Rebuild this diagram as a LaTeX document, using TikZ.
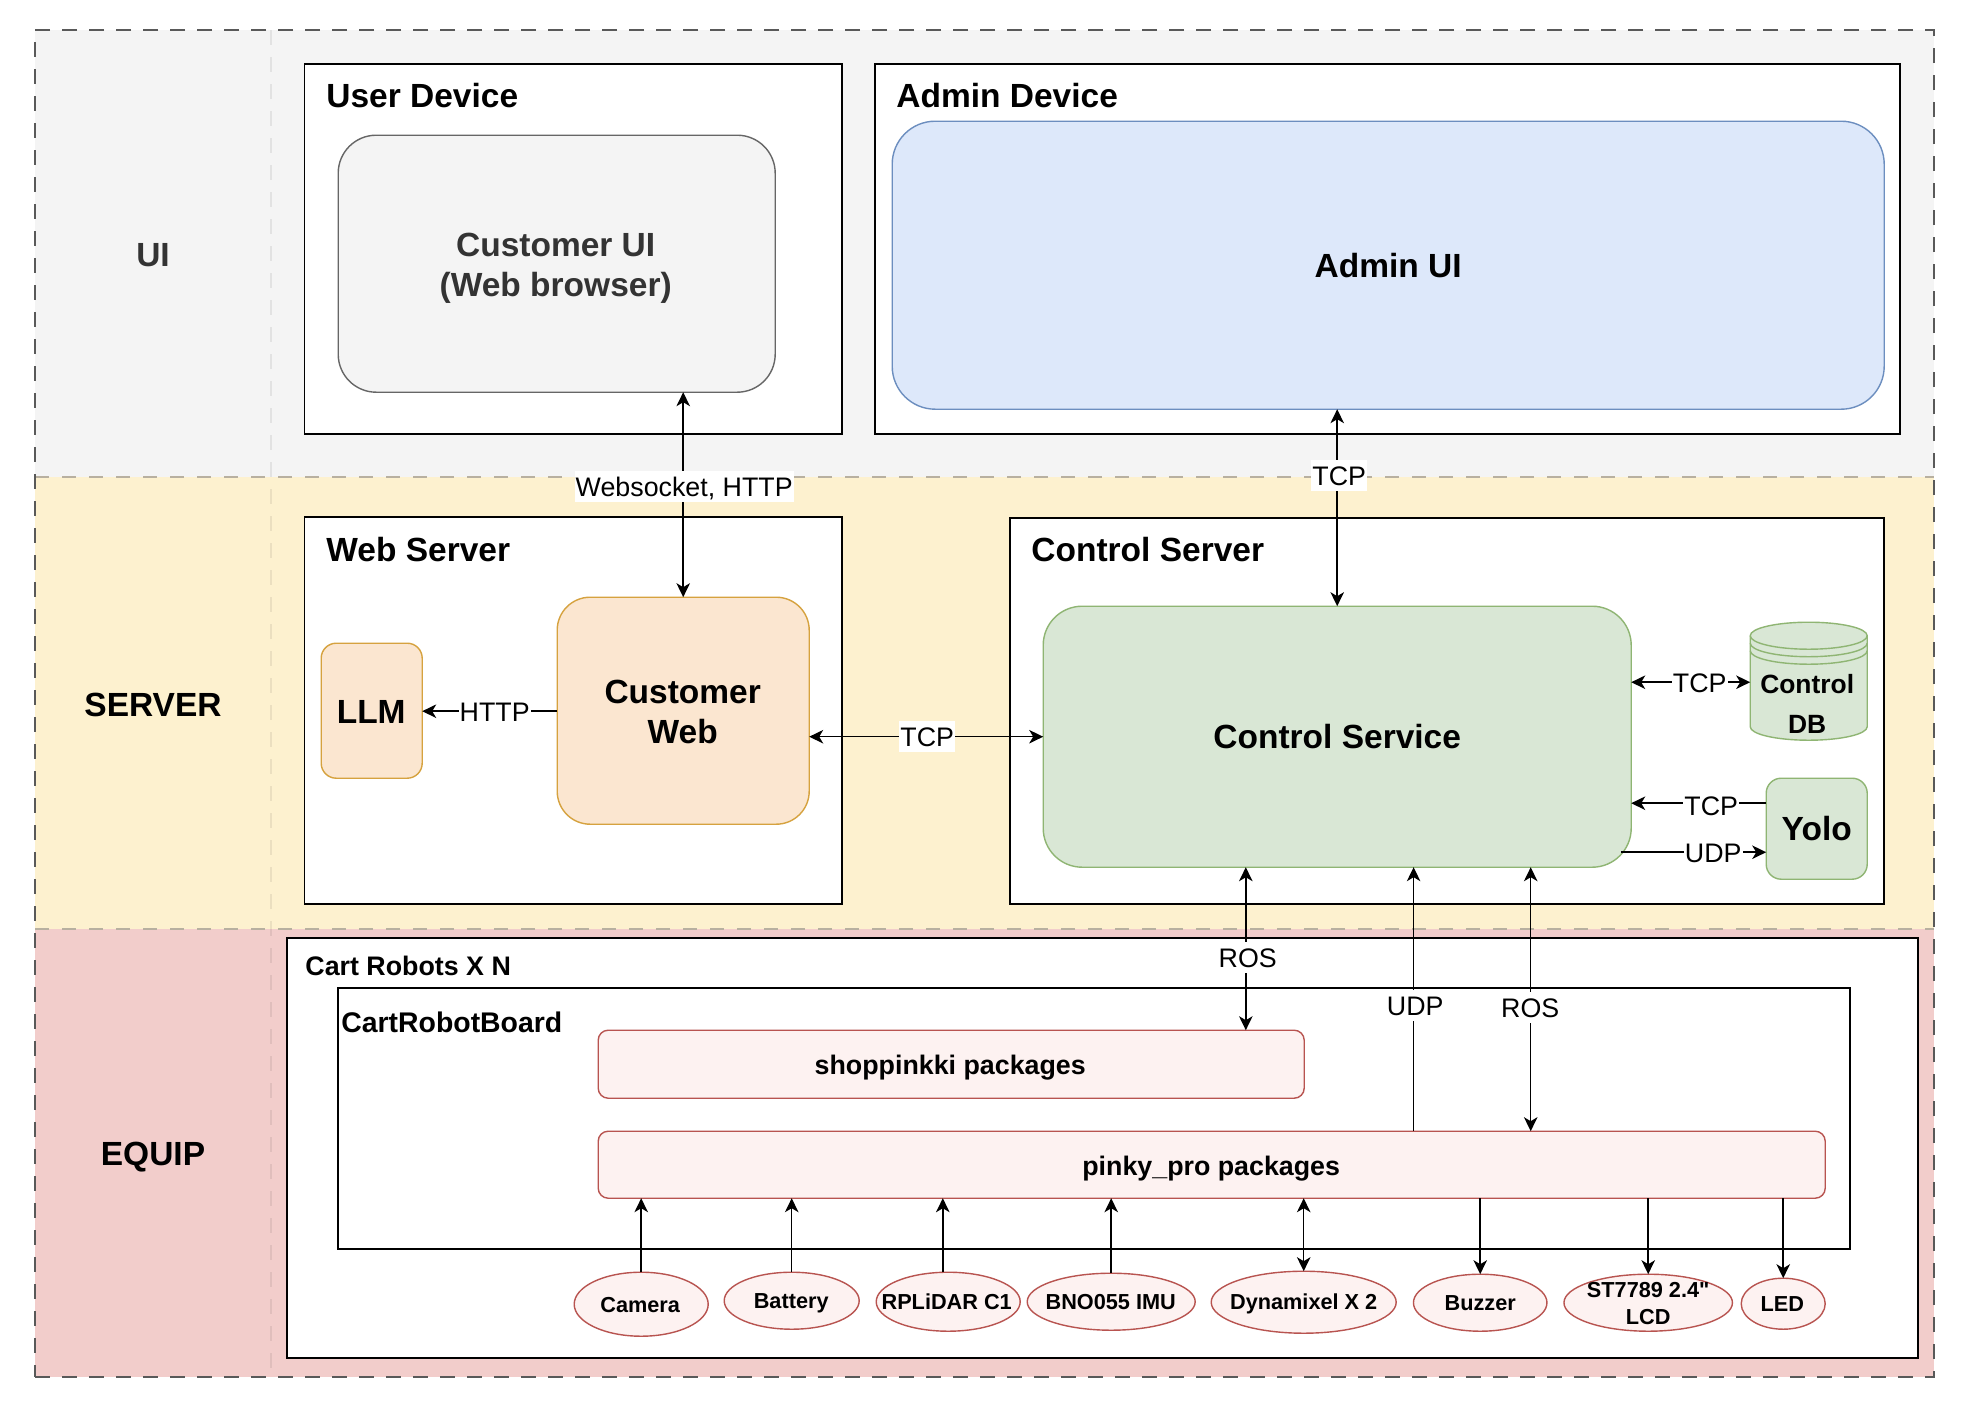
\documentclass[tikz,border=0pt]{standalone}
\usepackage{fontspec}
\setmainfont{Liberation Sans}[Ligatures=TeXOff]
\usetikzlibrary{arrows.meta,shapes.geometric}
\tikzset{
  box/.style={anchor=north west,inner sep=0pt,outer sep=0pt,align=center},
  band/.style={box,draw=none},
  frame/.style={box,draw=black,fill=white,line width=1.6pt},
  bigt/.style={font=\bfseries\fontsize{33.5}{40}\selectfont,align=center},
  lbl/.style={font=\fontsize{26.8}{31}\selectfont,fill=white,inner xsep=1pt,inner ysep=2pt,text height=24pt,text depth=3pt},
  title/.style={anchor=mid west,inner sep=0pt,font=\bfseries\fontsize{33.5}{40}\selectfont},
  gnode/.style={box,bigt,line width=1.4pt,draw=greenS,fill=greenF},
  onode/.style={box,bigt,line width=1.4pt,draw=orangeS,fill=orangeF},
  rnode/.style={box,line width=1.4pt,draw=redS,fill=redF,rounded corners=10pt},
  rtxt/.style={inner sep=0pt,font=\bfseries\fontsize{26.8}{31}\selectfont},
  elp/.style={ellipse,inner sep=0pt,outer sep=0pt,line width=1.4pt,draw=redS,fill=redF},
  etxt/.style={inner sep=0pt,align=center,font=\bfseries\fontsize{21.7}{27}\selectfont},
  conn/.style={draw=black,line width=1.5pt},
  >={Stealth[length=14pt,width=13.5pt,inset=4pt]},
}
\definecolor{uiF}{HTML}{F4F4F4}
\definecolor{srvF}{HTML}{FDF1CF}
\definecolor{eqF}{HTML}{F2CDCB}
\definecolor{greenF}{HTML}{D9E7D5}
\definecolor{greenS}{HTML}{8FB573}
\definecolor{orangeF}{HTML}{FBE6D0}
\definecolor{orangeS}{HTML}{D6A23F}
\definecolor{redF}{HTML}{FDF2F1}
\definecolor{redS}{HTML}{B85450}
\definecolor{blueF}{HTML}{DDE8FA}
\definecolor{blueS}{HTML}{6C8EBF}
\definecolor{sepC}{HTML}{B8B0A0}
\begin{document}
\begin{tikzpicture}[x=1pt,y=-1pt]
\useasboundingbox (0,0) rectangle (1964,1406);
% bands
\node[band,fill=uiF,minimum width=1899pt,minimum height=447pt] (uiband) at (35,30) {};
\node[band,fill=srvF,minimum width=1899pt,minimum height=452pt] (srvband) at (35,477) {};
\node[band,fill=eqF,minimum width=1899pt,minimum height=448pt] (eqband) at (35,929) {};
\coordinate (divtop) at (271,30);
\coordinate (divbot) at (271,1377);
\draw[black,opacity=0.07,line width=1.2pt,dash pattern=on 15pt off 12pt] (divtop) -- (divbot);
\draw[sepC,line width=1.3pt,dash pattern=on 14pt off 13pt] (uiband.south west) -- (uiband.south east);
\draw[sepC,line width=1.3pt,dash pattern=on 14pt off 13pt] (srvband.south west) -- (srvband.south east);
\node[box,draw=black!65,line width=1.2pt,dash pattern=on 15pt off 12pt,minimum width=1899pt,minimum height=1347pt] (outer) at (35,30) {};
\node[bigt,text=black!80] (lui) at (153,255) {UI};
\node[bigt] (lsrv) at (153,705) {SERVER};
\node[bigt] (leq) at (153,1157) {EQUIP};
\begin{scope}[shift={(0.2,0.2)}]
% frames
\node[frame,minimum width=537.5pt,minimum height=370pt] (userdev) at (304.3,64) {};
\node[frame,minimum width=1024.5pt,minimum height=370pt] (admindev) at (875,64) {};
\node[frame,minimum width=537.5pt,minimum height=387pt] (websrv) at (304.3,517) {};
\node[frame,minimum width=874pt,minimum height=386pt] (ctrlsrv) at (1010,518) {};
\node[frame,minimum width=1631pt,minimum height=420pt] (cart) at (287,938) {};
\node[frame,minimum width=1512pt,minimum height=261pt] (board) at (338,988) {};
\node[title] (tuser) at (326,105) {User Device};
\node[title] (tadmin) at (896,105) {Admin Device};
\node[title] (tweb) at (326,559) {Web Server};
\node[title] (tctrl) at (1031,559) {Control Server};
\node[title,font=\bfseries\fontsize{26.8}{31}\selectfont] (tcart) at (305,972.5) {Cart Robots X N};
\node[title,font=\bfseries\fontsize{28.4}{35}\selectfont] (tboard) at (341,1030) {CartRobotBoard};
% main boxes
\node[box,line width=1.4pt,draw=black!60,fill=uiF,rounded corners=38pt,minimum width=437pt,minimum height=257pt] (cui) at (338,135) {};
\node[bigt,text=black!80] (tcui) at (555.5,268) {Customer UI\\(Web browser)};
\node[box,bigt,line width=1.4pt,draw=blueS,fill=blueF,rounded corners=43pt,minimum width=992pt,minimum height=288pt] (aui) at (892,121) {Admin UI};
\node[onode,rounded corners=33pt,minimum width=252pt,minimum height=227pt] (cweb) at (557,597) {};
\node[bigt] (tcweb) at (682.5,712) {Customer\\Web};
\node[onode,rounded corners=15pt,minimum width=101pt,minimum height=135pt] (llm) at (321,643) {};
\node[bigt] (tllm) at (371,711.5) {LLM};
\node[gnode,rounded corners=39pt,minimum width=588pt,minimum height=261pt] (csvc) at (1043,606) {Control Service};
\node[gnode,rounded corners=15pt,minimum width=101pt,minimum height=101pt] (yolo) at (1766,778) {Yolo};
% database
\node[box,minimum width=117pt,minimum height=118pt] (db) at (1750,622) {};
\draw[line width=1.4pt,draw=greenS,fill=greenF] (db.north west) ++(0,13.5)
  .. controls (1750,628) and (1776,622) .. (db.north)
  .. controls (1841,622) and (1867,628) .. (1867,635.5)
  -- (1867,726.5)
  .. controls (1867,734) and (1841,740) .. (db.south)
  .. controls (1776,740) and (1750,734) .. (1750,726.5) -- cycle;
\draw[line width=1.4pt,draw=greenS] (1750,635.5) .. controls (1750,643) and (1776,649) .. (1808.5,649) .. controls (1841,649) and (1867,643) .. (1867,635.5);
\draw[line width=1.4pt,draw=greenS] (1750,643) .. controls (1750,650.5) and (1776,656.5) .. (1808.5,656.5) .. controls (1841,656.5) and (1867,650.5) .. (1867,643);
\draw[line width=1.4pt,draw=greenS] (1750,650.5) .. controls (1750,658) and (1776,664) .. (1808.5,664) .. controls (1841,664) and (1867,658) .. (1867,650.5);
\node[inner sep=0pt,align=center,font=\bfseries\fontsize{26.4}{31}\selectfont] (dbt1) at (1807,684) {Control};
\node[inner sep=0pt,align=center,font=\bfseries\fontsize{26.4}{31}\selectfont] (dbt2) at (1807,724) {DB};
% packages
\node[rnode,minimum width=706pt,minimum height=68pt] (shop) at (598,1030) {};
\node[rnode,minimum width=1227pt,minimum height=67pt] (pinky) at (598,1131) {};
\node[rtxt] (tshop) at (950,1067.5) {shoppinkki packages};
\node[rtxt] (tpinky) at (1211,1168) {pinky\_pro packages};
% devices
\node[elp,minimum width=134pt,minimum height=64pt] (cam) at (641,1304) {};
\node[elp,minimum width=135pt,minimum height=57pt] (bat) at (791.5,1300.5) {};
\node[elp,minimum width=144pt,minimum height=59pt] (rpl) at (948,1301.5) {};
\node[elp,minimum width=168pt,minimum height=57pt] (bno) at (1111,1301.5) {};
\node[elp,minimum width=185pt,minimum height=62pt] (dyn) at (1303.5,1302) {};
\node[elp,minimum width=133.5pt,minimum height=57pt] (buz) at (1480,1302.5) {};
\node[elp,minimum width=168.5pt,minimum height=57pt] (lcd) at (1648,1302.5) {};
\node[elp,minimum width=84pt,minimum height=51pt] (led) at (1783,1303.5) {};
\node[etxt] (tcam) at (640,1304.5) {Camera};
\node[etxt] (tbat) at (791,1303) {Battery};
\node[etxt] (trpl) at (946.5,1302) {RPLiDAR C1};
\node[etxt] (tbno) at (1110.5,1302) {BNO055 IMU};
\node[etxt] (tdyn) at (1303.5,1304) {Dynamixel X 2};
\node[etxt] (tbuz) at (1480,1303) {Buzzer};
\node[etxt] (tlcd) at (1648,1303) {ST7789 2.4"\\LCD};
\node[etxt] (tled) at (1782,1304) {LED};
% connectors
\draw[conn,<->] (cui.south -| cweb.north) -- (cweb.north);
\draw[conn,<->] (aui.south -| csvc.north) -- (csvc.north);
\draw[conn,<->] (cweb.east |- csvc.west) -- (csvc.west);
\draw[conn,->] (cweb.west |- 0,711) -- (llm.east |- 0,711);
\draw[conn,<->] (csvc.east |- 0,682) -- (db.west |- 0,682);
\draw[conn,->] (yolo.west |- 0,803) -- (csvc.east |- 0,803);
\coordinate (udpstart) at (1621,852);
\draw[conn,->] (udpstart) -- (yolo.west |- udpstart);
\draw[conn,<->] (csvc.south -| 1245.6,0) -- (shop.north -| 1245.6,0);
\draw[conn,->] (pinky.north -| 1413.4,0) -- (csvc.south -| 1413.4,0);
\draw[conn,<->] (csvc.south -| 1530.5,0) -- (pinky.north -| 1530.5,0);
\draw[conn,->] (cam.north) -- (cam.north |- pinky.south);
\draw[conn,->] (bat.north) -- (bat.north |- pinky.south);
\draw[conn,->] (rpl.north -| 942.6,0) -- (pinky.south -| 942.6,0);
\draw[conn,->] (bno.north) -- (bno.north |- pinky.south);
\draw[conn,<->] (pinky.south -| dyn.north) -- (dyn.north);
\draw[conn,->] (pinky.south -| buz.north) -- (buz.north);
\draw[conn,->] (pinky.south -| lcd.north) -- (lcd.north);
\draw[conn,->] (pinky.south -| led.north) -- (led.north);
% connector labels
\node[lbl] (lws) at (684,486) {Websocket, HTTP};
\node[lbl] (ltcpa) at (1339,475) {TCP};
\node[lbl] (ltcpw) at (927,736) {TCP};
\node[lbl] (lhttp) at (494.5,711) {HTTP};
\node[lbl] (ltcpd) at (1699.5,682) {TCP};
\node[lbl] (ltcpy) at (1711,805) {TCP};
\node[lbl] (ludpy) at (1713,852) {UDP};
\node[lbl] (lros1) at (1247.5,957) {ROS};
\node[lbl] (ludp) at (1415,1005) {UDP};
\node[lbl] (lros2) at (1530,1007) {ROS};
\end{scope}
\end{tikzpicture}
\end{document}
